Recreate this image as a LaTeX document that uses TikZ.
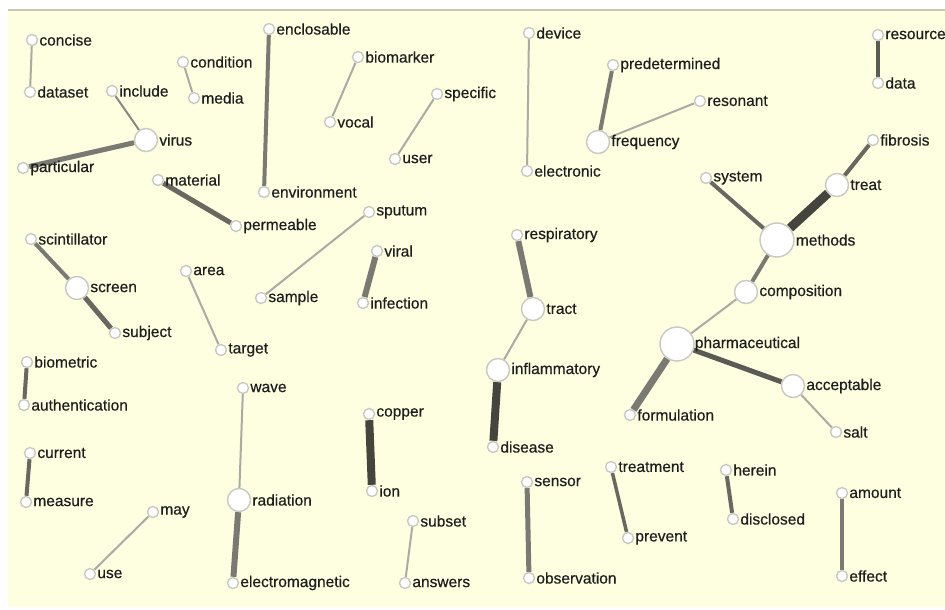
\documentclass[tikz,border=0pt]{standalone}
\usepackage{fontspec}
\setmainfont{Liberation Sans}[FakeBold=0.5]
\usetikzlibrary{backgrounds}

\definecolor{paper}{HTML}{FEFEE1}
\definecolor{rule}{HTML}{CAC6B2}
\definecolor{rim}{HTML}{C9C9C2}
\definecolor{ink}{HTML}{1E1E1E}
\definecolor{linklight}{HTML}{ABABA3}
\definecolor{linkmid}{HTML}{7A7A72}
\definecolor{linkdark}{HTML}{45453E}

\begin{document}
\begin{tikzpicture}[
    x=1pt, y=-1pt,
    every label/.style={font=\fontsize{15.5}{17}\selectfont, text=ink, inner sep=1pt},
    word/.style={circle, draw=rim, fill=white, line width=1.4pt,
      minimum size=11pt, inner sep=0pt, label distance=1pt},
    hub/.style={word, minimum size=23pt},
    core/.style={word, minimum size=34pt},
    lightlink/.style={draw=linklight, line width=2pt},
    midlink/.style={draw=linkmid, line width=4pt},
    heavylink/.style={draw=linkmid, line width=6pt},
    darklink/.style={draw=linkdark, line width=8pt}
  ]

  \useasboundingbox (0,0) rectangle (945,610);

  % left block
  \node[word, label=right:concise]        (concise)     at (32,40)  {};
  \node[word, label=right:dataset]        (dataset)     at (30,92)  {};
  \node[word, label=right:include]        (include)     at (112,91) {};
  \node[hub,  label=right:virus]          (virus)       at (146,140) {};
  \node[word, label=right:particular]     (particular)  at (23,168) {};
  \node[word, label=right:condition]      (condition)   at (183,62) {};
  \node[word, label=right:media]          (media)       at (194,98) {};
  \node[word, label=right:enclosable]     (enclosable)  at (269,29) {};
  \node[word, label=right:environment]    (environment) at (264,192) {};
  \node[word, label=right:biomarker]      (biomarker)   at (358,57) {};
  \node[word, label=right:vocal]          (vocal)       at (330,122) {};
  \node[word, label=right:specific]       (specific)    at (437,94) {};
  \node[word, label=right:user]           (user)        at (395,159) {};
  \node[word, label=right:material]       (material)    at (158,180) {};
  \node[word, label=right:permeable]      (permeable)   at (236,226) {};
  \node[word, label=right:sputum]         (sputum)      at (369,212) {};
  \node[word, label=right:sample]         (sample)      at (261,298) {};
  \node[word, label=right:viral]          (viral)       at (377,251) {};
  \node[word, label=right:infection]      (infection)   at (363,303) {};
  \node[word, label=right:scintillator]   (scintillator) at (31,239) {};
  \node[hub,  label=right:screen]         (screen)      at (77,288) {};
  \node[word, label=right:subject]        (subject)     at (115,333) {};
  \node[word, label=right:area]           (area)        at (186,271) {};
  \node[word, label=right:target]         (target)      at (221,350) {};
  \node[word, label=right:biometric]      (biometric)   at (27,362) {};
  \node[word, label=right:authentication] (authentication) at (24,405) {};
  \node[word, label=right:wave]           (wave)        at (243,388) {};
  \node[hub,  label=right:radiation]      (radiation)   at (239,500) {};
  \node[word, label=right:electromagnetic] (electromagnetic) at (233,583) {};
  \node[word, label=right:copper]         (copper)      at (369,414) {};
  \node[word, label=right:ion]            (ion)         at (372,491) {};
  \node[word, label=right:current]        (current)     at (30,453) {};
  \node[word, label=right:measure]        (measure)     at (26,502) {};
  \node[word, label=right:may]            (may)         at (153,512) {};
  \node[word, label=right:use]            (use)         at (90,574) {};
  \node[word, label=right:subset]         (subset)      at (413,521) {};
  \node[word, label=right:answers]        (answers)     at (405,583) {};

  % right block
  \node[word, label=right:device]         (device)      at (529,33)  {};
  \node[word, label=right:electronic]     (electronic)  at (527,171) {};
  \node[word, label=right:predetermined]  (predetermined) at (613,65) {};
  \node[word, label=right:resonant]       (resonant)    at (700,101) {};
  \node[hub,  label=right:frequency]      (frequency)   at (598,142) {};
  \node[word, label=right:resource]       (resource)    at (878,35)  {};
  \node[word, label=right:data]           (data)        at (878,83)  {};
  \node[word, label=right:fibrosis]       (fibrosis)    at (873,140) {};
  \node[hub,  label=right:treat]          (treat)       at (837,185) {};
  \node[word, label=right:system]         (system)      at (706,178) {};
  \node[core, label=right:methods]        (methods)     at (777,240) {};
  \node[hub,  label=right:composition]    (composition) at (746,292) {};
  \node[core, label={[xshift=-1pt]right:pharmaceutical}] (pharmaceutical) at (677,344) {};
  \node[hub,  label=right:acceptable]     (acceptable)  at (793,386) {};
  \node[word, label=right:formulation]    (formulation) at (630,415) {};
  \node[word, label=right:salt]           (salt)        at (836,432) {};
  \node[word, label=right:respiratory]    (respiratory) at (517,235) {};
  \node[hub,  label=right:tract]          (tract)       at (533,309) {};
  \node[hub,  label=right:inflammatory]   (inflammatory) at (498,370) {};
  \node[word, label=right:disease]        (disease)     at (493,447) {};
  \node[word, label=right:sensor]         (sensor)      at (527,482) {};
  \node[word, label=right:observation]    (observation) at (529,578) {};
  \node[word, label=right:treatment]      (treatment)   at (611,467) {};
  \node[word, label=right:prevent]        (prevent)     at (628,538) {};
  \node[word, label=right:herein]         (herein)      at (726,470) {};
  \node[word, label=right:disclosed]      (disclosed)   at (733,519) {};
  \node[word, label=right:amount]         (amount)      at (842,493) {};
  \node[word, label=right:effect]         (effect)      at (842,576) {};

  \begin{scope}[on background layer]
    % paper and top rule
    \fill[white] (0,0) rectangle (945,610);
    \fill[paper] (8,10) rectangle (945,607);
    \draw[rule, line width=2.5pt] (8,10) -- (945,10);

    % links
    \draw[lightlink] (concise) -- (dataset);
    \draw[lightlink, draw=linklight!80!black] (include) -- (virus);
    \draw[midlink, line width=5pt] (virus) -- (particular);
    \draw[lightlink] (condition) -- (media);
    \draw[midlink] (enclosable) -- (environment);
    \draw[lightlink] (biomarker) -- (vocal);
    \draw[lightlink] (specific) -- (user);
    \draw[midlink, line width=5pt, draw=linkmid!85!black] (material) -- (permeable);
    \draw[lightlink] (sputum) -- (sample);
    \draw[heavylink] (viral) -- (infection);
    \draw[midlink] (scintillator) -- (screen);
    \draw[midlink, line width=5pt, draw=linkmid!85!black] (screen) -- (subject);
    \draw[lightlink] (area) -- (target);
    \draw[midlink, draw=linkmid!85!black] (biometric) -- (authentication);
    \draw[lightlink] (wave) -- (radiation);
    \draw[heavylink] (radiation) -- (electromagnetic);
    \draw[darklink] (copper) -- (ion);
    \draw[midlink, draw=linkmid!85!black] (current) -- (measure);
    \draw[lightlink] (may) -- (use);
    \draw[lightlink] (subset) -- (answers);
    \draw[lightlink] (device) -- (electronic);
    \draw[midlink] (predetermined) -- (frequency);
    \draw[lightlink] (frequency) -- (resonant);
    \draw[midlink, draw=linkmid!75!black] (resource) -- (data);
    \draw[midlink, draw=linkmid!85!black] (fibrosis) -- (treat);
    \draw[darklink, line width=9pt] (treat) -- (methods);
    \draw[midlink, draw=linkmid!85!black] (system) -- (methods);
    \draw[midlink] (methods) -- (composition);
    \draw[lightlink] (composition) -- (pharmaceutical);
    \draw[heavylink, line width=7pt] (pharmaceutical) -- (formulation);
    \draw[midlink, line width=5pt, draw=linkmid!75!black] (pharmaceutical) -- (acceptable);
    \draw[lightlink] (acceptable) -- (salt);
    \draw[heavylink] (respiratory) -- (tract);
    \draw[lightlink] (tract) -- (inflammatory);
    \draw[darklink] (inflammatory) -- (disease);
    \draw[midlink, line width=5pt] (sensor) -- (observation);
    \draw[midlink, line width=3.5pt, draw=linkmid!85!black] (treatment) -- (prevent);
    \draw[midlink, draw=linkmid!85!black] (herein) -- (disclosed);
    \draw[midlink] (amount) -- (effect);
  \end{scope}

\end{tikzpicture}
\end{document}
